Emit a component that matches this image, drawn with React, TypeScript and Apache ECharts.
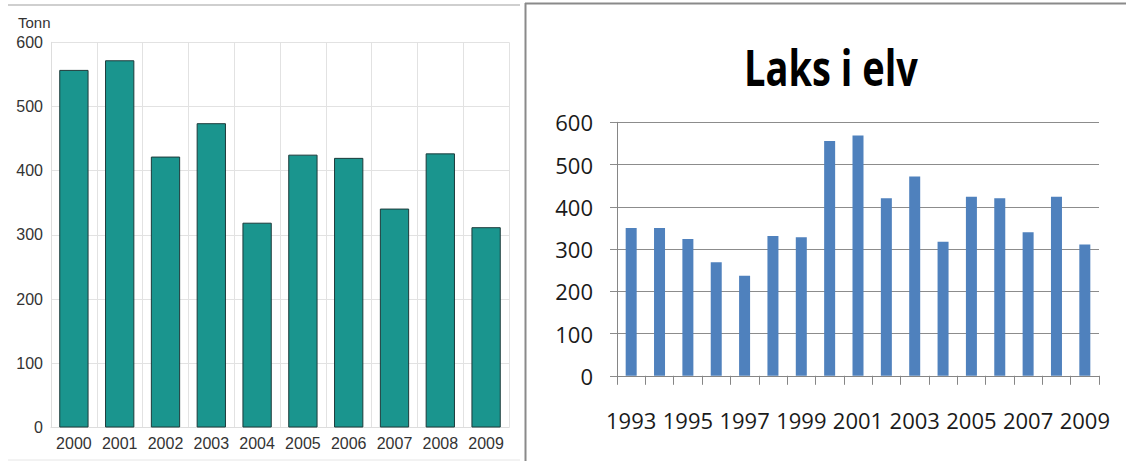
import React, { useEffect, useRef } from "react";
import * as echarts from "echarts";

const leftYears = ["2000", "2001", "2002", "2003", "2004", "2005", "2006", "2007", "2008", "2009"];
const leftValues = [557, 572, 422, 474, 319, 425, 420, 341, 427, 312];

const rightYears = ["1993", "1994", "1995", "1996", "1997", "1998", "1999", "2000", "2001", "2002", "2003", "2004", "2005", "2006", "2007", "2008", "2009"];
const rightValues = [350, 350, 324, 269, 237, 331, 328, 556, 569, 420, 472, 317, 424, 420, 340, 424, 311];

const leftUnit = "Tonn";
const rightTitle = "Laks i elv";

export default function App() {
  const ref = useRef<HTMLDivElement>(null);
  useEffect(() => {
    if (!ref.current) return;
    const chart = echarts.init(ref.current, undefined, { renderer: "svg" });
    const leftFont = "'Liberation Sans', Arial, sans-serif";
    const rightFont = "'Open Sans', 'Noto Sans', sans-serif";
    chart.setOption({
      animation: false,
      backgroundColor: "#ffffff",
      graphic: [
        { type: "line", shape: { x1: 8, y1: 5, x2: 520, y2: 5 }, style: { stroke: "#cfcfcf", lineWidth: 2 } },
        { type: "line", shape: { x1: 8, y1: 460, x2: 520, y2: 460 }, style: { stroke: "#e6e6e6", lineWidth: 1 } },
        { type: "line", shape: { x1: 525.5, y1: 3, x2: 525.5, y2: 461 }, style: { stroke: "#8a8a8a", lineWidth: 2 } },
        { type: "line", shape: { x1: 525, y1: 3.5, x2: 1126, y2: 3.5 }, style: { stroke: "#8a8a8a", lineWidth: 2 } },
        {
          type: "text",
          left: 18,
          top: 15,
          style: { text: leftUnit, fontFamily: leftFont, fontSize: 15, fill: "#333333" },
        },
        {
          type: "text",
          x: 831,
          y: 67,
          scaleX: 0.76,
          style: {
            text: rightTitle,
            fontFamily: "'Open Sans', sans-serif",
            fontWeight: "bold",
            fontSize: 50,
            fill: "#000000",
            textAlign: "center",
            textVerticalAlign: "middle",
          },
        },
      ],
      grid: [
        { left: 51, width: 458, top: 42.3, height: 385.2 },
        { left: 617, width: 482, top: 122.3, height: 253.5 },
      ],
      xAxis: [
        {
          type: "category",
          gridIndex: 0,
          data: leftYears,
          axisLine: { lineStyle: { color: "#dddddd", width: 1 } },
          axisTick: { show: false },
          splitLine: { show: true, interval: 0, lineStyle: { color: "#e2e2e2", width: 1 } },
          axisLabel: { interval: 0, margin: 8, fontFamily: leftFont, fontSize: 16, color: "#333333" },
        },
        {
          type: "category",
          gridIndex: 1,
          data: rightYears,
          axisLine: { lineStyle: { color: "#868686", width: 1 } },
          axisTick: { show: true, interval: 0, length: 9, lineStyle: { color: "#868686" } },
          splitLine: { show: false },
          axisLabel: { interval: 1, margin: 33, fontFamily: rightFont, fontSize: 22, color: "#1a1a1a" },
        },
      ],
      yAxis: [
        {
          type: "value",
          gridIndex: 0,
          min: 0,
          max: 600,
          interval: 100,
          axisLine: { show: true, lineStyle: { color: "#dddddd", width: 1 } },
          axisTick: { show: false },
          splitLine: { show: true, lineStyle: { color: "#e2e2e2", width: 1 } },
          axisLabel: { margin: 8, fontFamily: leftFont, fontSize: 16, color: "#333333" },
        },
        {
          type: "value",
          gridIndex: 1,
          min: 0,
          max: 600,
          interval: 100,
          axisLine: { show: true, lineStyle: { color: "#868686", width: 1 } },
          axisTick: { show: true, length: 7, lineStyle: { color: "#8c8c8c" } },
          splitLine: { show: true, lineStyle: { color: "#8c8c8c", width: 1 } },
          axisLabel: { margin: 24, fontFamily: rightFont, fontSize: 22, color: "#1a1a1a" },
        },
      ],
      series: [
        {
          type: "bar",
          xAxisIndex: 0,
          yAxisIndex: 0,
          data: leftValues,
          barWidth: "64%",
          itemStyle: { color: "#1a958e", borderColor: "#1c3a3a", borderWidth: 1 },
        },
        {
          type: "bar",
          xAxisIndex: 1,
          yAxisIndex: 1,
          data: rightValues,
          barWidth: 11,
          itemStyle: { color: "#4f81bd" },
        },
      ],
    });
    return () => chart.dispose();
  }, []);
  return (
    <div
      ref={ref}
      style={{ position: "absolute", left: 0, top: 0, width: 1126, height: 461 }}
    />
  );
}
